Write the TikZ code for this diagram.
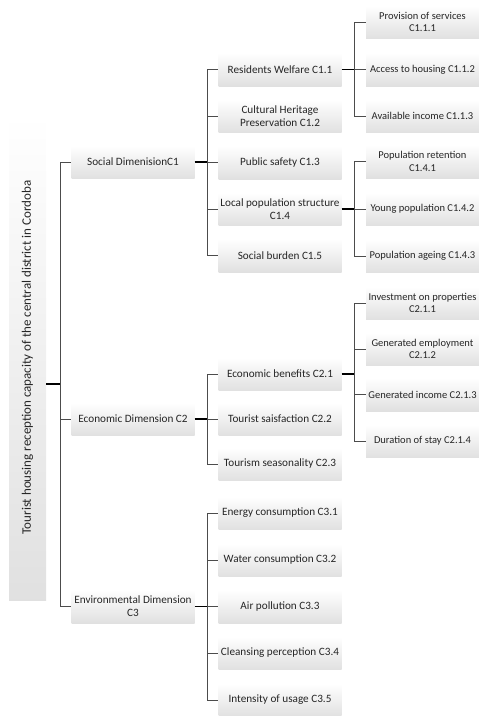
\documentclass[tikz,border=0pt]{standalone}
\usepackage{fontspec}
\setmainfont{Carlito}
\begin{document}
\begin{tikzpicture}[x=1pt,y=-1pt,
  box/.style={top color=white, bottom color=black!12, draw=none,
    minimum width=123pt, minimum height=33pt, inner sep=1pt, align=center,
    font=\fontsize{11.2}{13}\selectfont, text=black!85},
  leafbox/.style={box, minimum width=113pt, inner sep=0.5pt,
    font=\fontsize{10.5}{12.5}\selectfont},
  rootbox/.style={top color=white, bottom color=black!12, draw=none,
    minimum width=37pt, minimum height=485pt, inner sep=0pt,
    font=\fontsize{13}{15}\selectfont, text=black!85},
  conn/.style={draw=black!70, line width=0.9pt},
  ptick/.style={draw=black, line width=1.5pt}]
\useasboundingbox (0,0) rectangle (479,716);
\clip (0,0) rectangle (479,716);

% root
\node[rootbox] (root) at (27.5,357.5) {\rotatebox{90}{Tourist housing reception capacity of the central district in Cordoba}};

% level 1
\node[box] (c1) at (133,162) {Social DimenisionC1};
\node[box] (c2) at (133,419) {Economic Dimension C2};
\node[box] (c3) at (133,606.5) {Environmental Dimension\\C3};

% level 2
\node[box] (c11) at (280,69.5) {Residents Welfare C1.1};
\node[box] (c12) at (280,116) {Cultural Heritage\\Preservation C1.2};
\node[box] (c13) at (280,162.5) {Public safety C1.3};
\node[box] (c14) at (280,209) {Local population structure\\C1.4};
\node[box] (c15) at (280,255.5) {Social burden C1.5};

\node[box] (c21) at (280,374) {Economic benefits C2.1};
\node[box] (c22) at (280,419) {Tourist saisfaction C2.2};
\node[box] (c23) at (280,464) {Tourism seasonality C2.3};

\node[box] (c31) at (280,513) {Energy consumption C3.1};
\node[box] (c32) at (280,560) {Water consumption C3.2};
\node[box] (c33) at (280,606.5) {Air pollution C3.3};
\node[box] (c34) at (280,653) {Cleansing perception C3.4};
\node[box] (c35) at (280,700) {Intensity of usage C3.5};

% level 3
\node[leafbox] (c111) at (422.5,22) {Provision of services\\C1.1.1};
\node[leafbox] (c112) at (422.5,69.5) {Access to housing C1.1.2};
\node[leafbox] (c113) at (422.5,116) {Available income C1.1.3};

\node[leafbox] (c141) at (422.5,161.5) {Population retention\\C1.4.1};
\node[leafbox] (c142) at (422.5,209) {Young population C1.4.2};
\node[leafbox] (c143) at (422.5,256) {Population ageing C1.4.3};

\node[leafbox] (c211) at (422.5,303) {Investment on properties\\C2.1.1};
\node[leafbox] (c212) at (422.5,349) {Generated employment\\C2.1.2};
\node[leafbox] (c213) at (422.5,394.5) {Generated income C2.1.3};
\node[leafbox] (c214) at (422.5,441) {Duration of stay C2.1.4};

% junctions
\coordinate (jr) at (60,384);
\coordinate (j1) at (207,162);
\coordinate (j2) at (207,419);
\coordinate (j3) at (207,606.5);
\coordinate (j11) at (354,69.5);
\coordinate (j14) at (354,209);
\coordinate (j21) at (354,374);

% root connectors
\draw[conn] (jr) |- (c1.west);
\draw[conn] (jr) |- (c2.west);
\draw[conn] (jr) |- (c3.west);
\draw[ptick] (root.east |- jr) -- (jr);

% social
\foreach \c in {c11,c12,c13,c14,c15} \draw[conn] (j1) |- (\c.west);
\draw[ptick] (c1.east) -- (j1);
% economic
\foreach \c in {c21,c22,c23} \draw[conn] (j2) |- (\c.west);
\draw[ptick] (c2.east) -- (j2);
% environmental
\foreach \c in {c31,c32,c33,c34,c35} \draw[conn] (j3) |- (\c.west);
\draw[ptick] (c3.east) -- (j3);

% level 3
\foreach \c in {c111,c112,c113} \draw[conn] (j11) |- (\c.west);
\draw[ptick] (c11.east) -- (j11);
\foreach \c in {c141,c142,c143} \draw[conn] (j14) |- (\c.west);
\draw[ptick] (c14.east) -- (j14);
\foreach \c in {c211,c212,c213,c214} \draw[conn] (j21) |- (\c.west);
\draw[ptick] (c21.east) -- (j21);
\end{tikzpicture}
\end{document}
